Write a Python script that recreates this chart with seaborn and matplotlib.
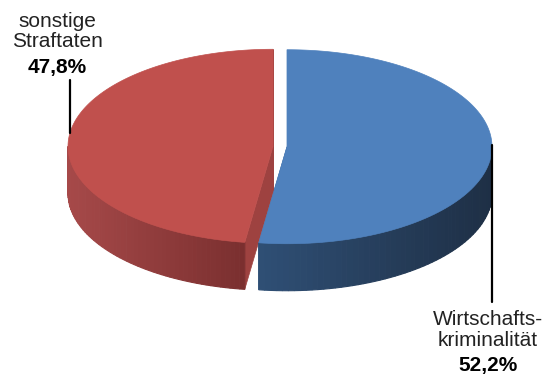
import numpy as np
import matplotlib
matplotlib.use("Agg")
import matplotlib.pyplot as plt
from matplotlib.patches import Polygon
import seaborn as sns

# data
labels = ["Wirtschafts-\nkriminalität", "sonstige\nStraftaten"]
shares = [52.2, 47.8]
pct_labels = ["52,2%", "47,8%"]

top_colors = ["#4F81BD", "#C0504D"]
cut_colors = ["#3A6395", "#9E4240"]
wall_light = ["#2F4F75", "#A64949"]
wall_dark = ["#1E2F45", "#7A2F2F"]

sns.set_style("white")
plt.rcParams["font.family"] = ["Liberation Sans", "DejaVu Sans"]

# pie geometry (pixel-ish units)
CX, CY = 280, 146.5
A, B = 205, 97
DEPTH = 47
EXPLODE = 7


def pt(cx, cy, t):
    return np.array([cx + A * np.sin(t), cy - B * np.cos(t)])


fig = plt.figure(figsize=(5.6, 3.76), dpi=100)
ax = fig.add_axes([0, 0, 1, 1])
ax.set_xlim(0, 560)
ax.set_ylim(376, 0)
ax.axis("off")

fracs = np.array(shares) / sum(shares)
bounds = np.concatenate([[0], np.cumsum(fracs)]) * 2 * np.pi

slices = []
for i in range(len(shares)):
    t0, t1 = bounds[i], bounds[i + 1]
    tm = (t0 + t1) / 2
    cx = CX + EXPLODE * np.sin(tm)
    cy = CY - EXPLODE * (B / A) * np.cos(tm)
    slices.append((t0, t1, cx, cy))

# radial cut faces
for i, (t0, t1, cx, cy) in enumerate(slices):
    for t in (t0, t1):
        p = pt(cx, cy, t)
        c = np.array([cx, cy])
        quad = [c, p, p + [0, DEPTH], c + [0, DEPTH]]
        ax.add_patch(Polygon(quad, closed=True, facecolor=cut_colors[i],
                             edgecolor=cut_colors[i], lw=0.5, zorder=1))

# outer walls with shading
for i, (t0, t1, cx, cy) in enumerate(slices):
    lo = max(t0, np.pi / 2)
    hi = min(t1, 3 * np.pi / 2)
    if hi <= lo:
        continue
    ts = np.linspace(lo, hi, 60)
    c_l = np.array(matplotlib.colors.to_rgb(wall_light[i]))
    c_d = np.array(matplotlib.colors.to_rgb(wall_dark[i]))
    xs = [pt(cx, cy, t)[0] for t in ts]
    xmin, xmax = min(xs), max(xs)
    for k in range(len(ts) - 1):
        pa, pb = pt(cx, cy, ts[k]), pt(cx, cy, ts[k + 1])
        f = ((pa[0] + pb[0]) / 2 - xmin) / (xmax - xmin)
        col = c_l * (1 - f) + c_d * f
        quad = [pa, pb, pb + [0, DEPTH], pa + [0, DEPTH]]
        ax.add_patch(Polygon(quad, closed=True, facecolor=col,
                             edgecolor=col, lw=0.8, zorder=2))

# top faces
for i, (t0, t1, cx, cy) in enumerate(slices):
    ts = np.linspace(t0, t1, 200)
    poly = [np.array([cx, cy])] + [pt(cx, cy, t) for t in ts]
    ax.add_patch(Polygon(poly, closed=True, facecolor=top_colors[i],
                         edgecolor=top_colors[i], lw=0.5, zorder=3))

# labels with leader lines
# blue: leader from right edge down to the text
t0, t1, cx, cy = slices[0]
anchor = pt(cx, cy, np.pi / 2)
ax.plot([anchor[0], anchor[0]], [anchor[1] - 2, 302], color="black", lw=1.6, zorder=4)
ax.text(488, 330, labels[0], ha="center", va="center", fontsize=15,
        color="#222222", linespacing=1.1)
ax.text(488, 366, pct_labels[0], ha="center", va="center", fontsize=15,
        fontweight="bold", color="black")

# red: leader from left edge up to the text
t0, t1, cx, cy = slices[1]
tr = 2 * np.pi - np.arcsin((cx - 70) / A)
anchor = pt(cx, cy, tr)
ax.plot([anchor[0], anchor[0]], [anchor[1], 80], color="black", lw=1.6, zorder=4)
ax.text(57, 31.5, labels[1], ha="center", va="center", fontsize=15,
        color="#222222", linespacing=1.1)
ax.text(57, 68, pct_labels[1], ha="center", va="center", fontsize=15,
        fontweight="bold", color="black")

fig.savefig("out.png", dpi=100, facecolor="white")
